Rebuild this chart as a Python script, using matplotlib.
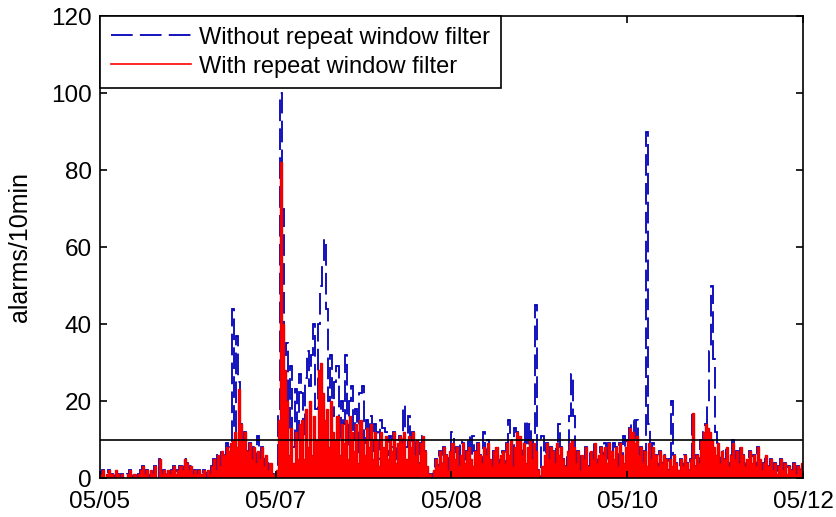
import numpy as np
import matplotlib.pyplot as plt

plt.rcParams['font.family'] = ['Liberation Sans', 'DejaVu Sans']

# alarm counts per 30 min bin, 48 bins per day
red_d1 = [1, 2, 0, 1, 2, 1, 0, 2, 1, 0, 1, 0, 0, 1, 2, 0, 1, 0, 1, 2,
          3, 1, 2, 0, 2, 1, 3, 0, 5, 1, 2, 1, 2, 1, 2, 3, 1, 2, 3, 2,
          5, 4, 2, 3, 1, 2, 1, 2]
red_d2 = [1, 2, 0, 2, 1, 3, 5, 2, 6, 3, 7, 6, 8, 7, 9, 10, 12, 8, 23, 14,
          10, 12, 7, 9, 5, 8, 4, 7, 5, 8, 3, 6, 2, 4, 1, 0, 2, 15, 82, 40,
          28, 20, 6, 13, 4, 12, 5, 14]
red_d3 = [15, 5, 18, 8, 20, 6, 16, 10, 28, 30, 22, 15, 18, 8, 20, 12, 10, 16, 6, 14,
          9, 15, 5, 16, 12, 7, 14, 4, 15, 10, 6, 13, 8, 14, 5, 12, 10, 3, 12, 8,
          11, 5, 10, 7, 12, 4, 9, 11]
red_d4 = [9, 12, 5, 11, 8, 12, 6, 10, 4, 9, 11, 7, 3, 1, 0, 2, 5, 3, 7, 4,
          8, 6, 2, 7, 9, 5, 8, 3, 6, 9, 4, 7, 8, 5, 3, 7, 9, 6, 4, 8,
          6, 9, 5, 3, 7, 8, 4, 6]
red_d5 = [7, 4, 9, 6, 10, 3, 8, 12, 11, 6, 9, 4, 8, 10, 5, 9, 7, 2, 0, 3,
          6, 9, 5, 8, 7, 4, 9, 6, 8, 5, 3, 7, 9, 10, 8, 4, 7, 2, 6, 5,
          8, 3, 7, 5, 9, 4, 6, 8]
red_d6 = [6, 8, 4, 9, 7, 5, 8, 3, 9, 6, 4, 8, 10, 13, 12, 9, 11, 6, 8, 4,
          7, 3, 9, 5, 8, 6, 3, 7, 4, 6, 5, 2, 5, 3, 6, 4, 2, 5, 3, 6,
          4, 2, 5, 17, 3, 6, 4, 10]
red_d7 = [12, 14, 13, 12, 10, 8, 6, 9, 4, 7, 5, 8, 3, 6, 9, 5, 7, 4, 8, 6,
          3, 5, 7, 4, 6, 3, 8, 5, 2, 4, 6, 3, 5, 2, 4, 1, 3, 5, 2, 4,
          1, 3, 2, 4, 1, 3, 2, 4]

blue_d1 = list(red_d1)
blue_d2 = [1, 2, 0, 2, 1, 3, 5, 2, 6, 3, 7, 6, 9, 8, 9, 44, 12, 37, 25, 14,
           10, 12, 7, 9, 5, 8, 4, 11, 5, 8, 3, 6, 2, 4, 1, 0, 2, 17, 100, 70,
           32, 35, 12, 29, 8, 23, 10, 27]
blue_d3 = [22, 10, 26, 33, 24, 32, 40, 18, 40, 50, 56, 62, 44, 20, 32, 16, 25, 29, 10, 20,
           14, 32, 8, 20, 24, 10, 18, 6, 22, 24, 9, 15, 10, 16, 7, 14, 12, 5, 15, 13,
           12, 6, 11, 8, 12, 5, 10, 11]
blue_d4 = [9, 19, 8, 16, 8, 12, 6, 10, 4, 9, 11, 7, 3, 1, 0, 2, 5, 3, 7, 4,
           8, 6, 2, 7, 12, 5, 8, 3, 10, 9, 4, 7, 11, 5, 11, 7, 9, 6, 4, 12,
           6, 10, 5, 3, 7, 8, 4, 6]
blue_d5 = [7, 4, 9, 15, 10, 3, 13, 12, 11, 6, 9, 15, 8, 14, 5, 10, 45, 2, 0, 11,
           6, 9, 5, 8, 7, 4, 9, 14, 8, 5, 3, 7, 16, 27, 16, 4, 7, 2, 6, 5,
           8, 3, 7, 5, 9, 4, 6, 8]
blue_d6 = [6, 9, 4, 9, 7, 9, 8, 3, 9, 6, 11, 8, 10, 13, 15, 9, 15, 6, 8, 4,
           7, 90, 14, 5, 9, 6, 3, 7, 4, 6, 5, 2, 5, 20, 6, 4, 2, 5, 3, 6,
           4, 2, 5, 17, 3, 6, 4, 10]
blue_d7 = [12, 14, 19, 33, 50, 31, 12, 9, 4, 7, 5, 8, 3, 6, 10, 5, 7, 4, 8, 6,
           3, 5, 7, 4, 6, 3, 8, 5, 2, 4, 6, 3, 5, 2, 4, 1, 3, 5, 2, 4,
           1, 3, 2, 4, 1, 3, 2, 4]

date_labels = ["05/05", "05/07", "05/08", "05/10", "05/12"]
threshold = 10

red = np.array(red_d1 + red_d2 + red_d3 + red_d4 + red_d5 + red_d6 + red_d7)
blue = np.array(blue_d1 + blue_d2 + blue_d3 + blue_d4 + blue_d5 + blue_d6 + blue_d7)
edges = np.arange(len(red) + 1) / 48.0

fig = plt.figure(figsize=(8.36, 5.17), dpi=100)
ax = fig.add_axes([0.1196, 0.0754, 0.8409, 0.8936])

ax.stairs(blue, edges, color="#0000b8", lw=1.3, linestyle=(0, (12, 4)),
          label="Without repeat window filter")
ax.stairs(red, edges, color="#ff0000", fill=True)
ax.stairs(red, edges, color="#ee0000", lw=1.0)
ax.plot([], [], color="#ff0000", lw=1.2, label="With repeat window filter")
ax.axhline(threshold, color="black", lw=1.2)

ax.set_xlim(0, edges[-1])
ax.set_ylim(0, 120)
ax.set_xticks(np.linspace(0, edges[-1], len(date_labels)))
ax.set_xticklabels(date_labels)
ax.set_yticks(np.arange(0, 121, 20))
ax.set_ylabel("alarms/10min", fontsize=18)
ax.yaxis.set_label_coords(-0.097, 0.5)

ax.tick_params(direction="in", length=5, width=1.2, labelsize=17.5,
               top=True, right=True, colors="black")
ax.tick_params(axis="y", pad=6)
ax.tick_params(axis="x", pad=9)
for s in ax.spines.values():
    s.set_linewidth(1.2)

leg = ax.legend(loc="upper left", fontsize=17, fancybox=False, framealpha=1,
                edgecolor="black", borderaxespad=0, handlelength=3.4,
                handletextpad=0.35, labelspacing=0.3, borderpad=0.45)
leg.get_frame().set_linewidth(1.2)

fig.savefig("out.png", dpi=100)
